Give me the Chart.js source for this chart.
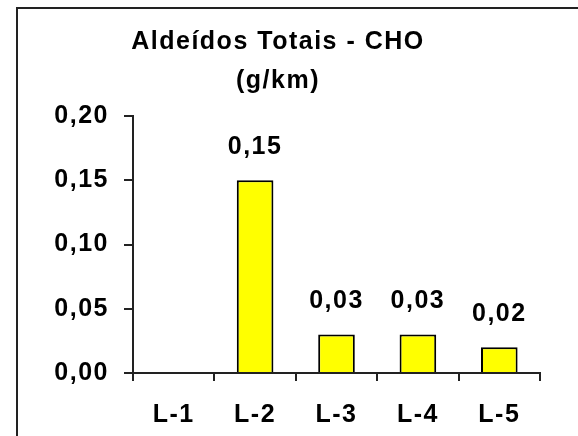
<!DOCTYPE html>
<html>
<head>
<meta charset="utf-8">
<script src="https://cdn.jsdelivr.net/npm/chart.js@4/dist/chart.umd.min.js"></script>
<style>
  html, body { margin: 0; padding: 0; background: #fff; overflow: hidden; }
  #wrap { position: relative; width: 578px; height: 436px; }
  #frame { position: absolute; left: 16px; top: 7px; width: 600px; height: 500px;
           border-left: 2px solid #222; border-top: 2px solid #222; }
  canvas { position: absolute; left: 0; top: 0; }
</style>
</head>
<body>
<div id="wrap">
  <div id="frame"></div>
  <canvas id="c" width="578" height="436"></canvas>
</div>
<script>
const titleLines = ['Aldeídos Totais - CHO', '(g/km)'];
const categories = ['L-1', 'L-2', 'L-3', 'L-4', 'L-5'];
const values = [null, 0.15, 0.03, 0.03, 0.02];
const yMin = 0, yMax = 0.20, yStep = 0.05;

const fmt = v => v.toFixed(2).replace('.', ',');
const FONT = "'Liberation Sans', Arial, sans-serif";
const SPACING = '1.5px';

const spacingPlugin = {
  id: 'spacing',
  beforeLayout(chart) { chart.ctx.letterSpacing = SPACING; },
  beforeDraw(chart) { chart.ctx.letterSpacing = SPACING; }
};

const valueLabels = {
  id: 'valueLabels',
  afterDatasetsDraw(chart) {
    const ctx = chart.ctx;
    const meta = chart.getDatasetMeta(0);
    ctx.save();
    ctx.letterSpacing = SPACING;
    ctx.font = 'bold 25px ' + FONT;
    ctx.fillStyle = '#000';
    ctx.textAlign = 'center';
    ctx.textBaseline = 'middle';
    meta.data.forEach((bar, i) => {
      const v = values[i];
      if (v === null || v === undefined) return;
      ctx.fillText(fmt(v), bar.x, bar.y - 33);
    });
    ctx.restore();
  }
};

new Chart(document.getElementById('c'), {
  type: 'bar',
  data: {
    labels: categories,
    datasets: [{
      data: values,
      backgroundColor: '#ffff00',
      borderColor: '#000',
      borderWidth: 2,
      barPercentage: 0.45,
      categoryPercentage: 1.0
    }]
  },
  options: {
    responsive: false,
    animation: false,
    layout: { padding: { left: 16, right: 38, top: 8, bottom: 8 } },
    plugins: {
      legend: { display: false },
      tooltip: { enabled: false },
      title: {
        display: true,
        text: titleLines,
        color: '#000',
        font: { family: FONT, size: 25, weight: 'bold', lineHeight: 1.54 },
        padding: { top: 15, bottom: 16 }
      }
    },
    scales: {
      x: {
        afterFit(axis) { axis.height = 55; },
        grid: { display: true, drawOnChartArea: false, offset: true, tickLength: 8, color: '#222', lineWidth: 2 },
        border: { display: true, color: '#222', width: 2 },
        ticks: { color: '#000', font: { family: FONT, size: 25, weight: 'bold' }, padding: 19 }
      },
      y: {
        min: yMin, max: yMax,
        afterFit(axis) { axis.width = 117; },
        grid: { display: true, drawOnChartArea: false, tickLength: 9, color: '#222', lineWidth: 2 },
        border: { display: true, color: '#222', width: 2 },
        ticks: {
          stepSize: yStep,
          color: '#000',
          font: { family: FONT, size: 25, weight: 'bold' },
          padding: 15,
          callback: v => fmt(v)
        }
      }
    }
  },
  plugins: [spacingPlugin, valueLabels]
});
</script>
</body>
</html>
